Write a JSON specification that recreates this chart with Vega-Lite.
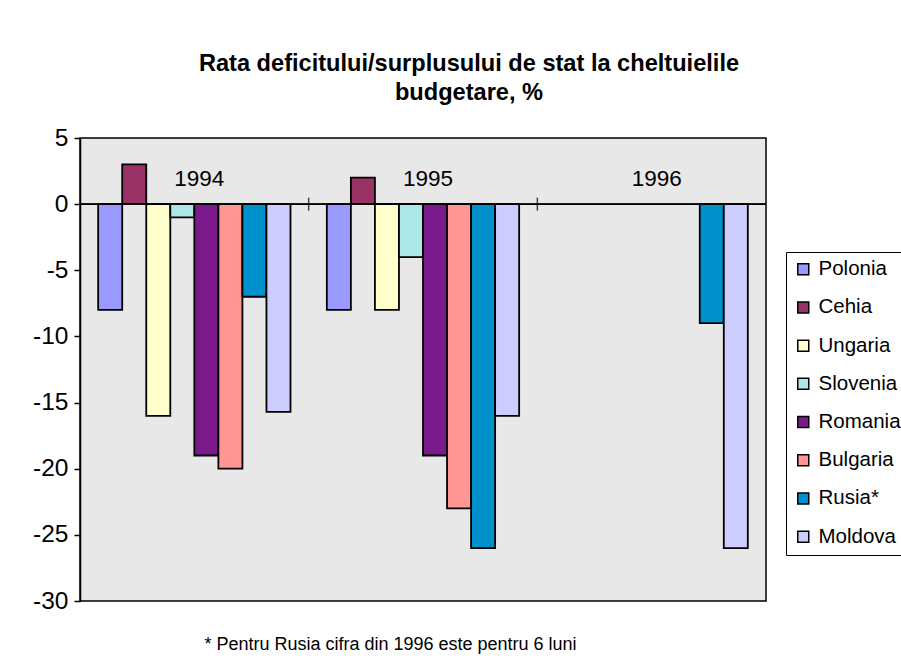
{
  "$schema": "https://vega.github.io/schema/vega-lite/v6.json",
  "width": 686,
  "height": 463,
  "autosize": {"type": "none"},
  "padding": {"left": 80, "top": 138, "right": 135, "bottom": 62},
  "background": "white",
  "config": {
    "font": "Liberation Sans",
    "view": {"fill": "#E8E8E8", "stroke": "#000000", "strokeWidth": 1.5}
  },
  "title": {
    "text": ["Rata deficitului/surplusului de stat la cheltuielile", "budgetare, %"],
    "fontSize": 23.6,
    "fontWeight": "bold",
    "font": "Liberation Sans",
    "color": "#000000",
    "anchor": "middle",
    "frame": "group",
    "dx": 46,
    "lineHeight": 29.5,
    "baseline": "bottom",
    "offset": -4
  },
  "datasets": {
    "bars": [
      {"year": "1994", "country": "Polonia", "value": -8},
      {"year": "1994", "country": "Cehia", "value": 3},
      {"year": "1994", "country": "Ungaria", "value": -16},
      {"year": "1994", "country": "Slovenia", "value": -1},
      {"year": "1994", "country": "Romania", "value": -19},
      {"year": "1994", "country": "Bulgaria", "value": -20},
      {"year": "1994", "country": "Rusia*", "value": -7},
      {"year": "1994", "country": "Moldova", "value": -15.7},
      {"year": "1995", "country": "Polonia", "value": -8},
      {"year": "1995", "country": "Cehia", "value": 2},
      {"year": "1995", "country": "Ungaria", "value": -8},
      {"year": "1995", "country": "Slovenia", "value": -4},
      {"year": "1995", "country": "Romania", "value": -19},
      {"year": "1995", "country": "Bulgaria", "value": -23},
      {"year": "1995", "country": "Rusia*", "value": -26},
      {"year": "1995", "country": "Moldova", "value": -16},
      {"year": "1996", "country": "Rusia*", "value": -9},
      {"year": "1996", "country": "Moldova", "value": -26}
    ],
    "years": [
      {"year": "1994"},
      {"year": "1995"},
      {"year": "1996"}
    ],
    "bounds": [
      {"year": "1995"},
      {"year": "1996"}
    ]
  },
  "layer": [
    {
      "data": {"name": "bars"},
      "mark": {"type": "bar", "stroke": "#000000", "strokeWidth": 1.8},
      "encoding": {
        "x": {
          "field": "year",
          "type": "nominal",
          "scale": {"paddingInner": 0, "paddingOuter": 0},
          "axis": {
            "orient": "bottom",
            "labels": false,
            "ticks": false,
            "domain": false,
            "title": "* Pentru Rusia cifra din 1996 este pentru 6 luni",
            "titleFontSize": 18,
            "titleFontWeight": "normal",
            "titleColor": "#000000",
            "titleFont": "Liberation Sans",
            "titleX": 310,
            "titleY": 48,
            "titleAlign": "center",
            "titleBaseline": "alphabetic"
          }
        },
        "xOffset": {
          "field": "country",
          "type": "nominal",
          "scale": {
            "domain": ["Polonia", "Cehia", "Ungaria", "Slovenia", "Romania", "Bulgaria", "Rusia*", "Moldova"],
            "paddingInner": 0,
            "paddingOuter": 0.756
          }
        },
        "y": {
          "field": "value",
          "type": "quantitative",
          "scale": {"domain": [-30, 5], "nice": false, "zero": true},
          "axis": {
            "values": [-30, -25, -20, -15, -10, -5, 0, 5],
            "labelExpr": "datum.value < 0 ? '-' + abs(datum.value) : '' + datum.value",
            "title": null,
            "grid": false,
            "labelFontSize": 24.5,
            "labelColor": "#000000",
            "labelFont": "Liberation Sans",
            "labelPadding": 6,
            "tickSize": 6,
            "tickColor": "#000000",
            "tickWidth": 1.5,
            "domainColor": "#000000",
            "domainWidth": 1.5
          }
        },
        "color": {
          "field": "country",
          "type": "nominal",
          "scale": {
            "domain": ["Polonia", "Cehia", "Ungaria", "Slovenia", "Romania", "Bulgaria", "Rusia*", "Moldova"],
            "range": ["#9999FF", "#993366", "#FFFFCC", "#ADE8E6", "#7B1A8C", "#FF9694", "#0090CC", "#CCCCFF"]
          },
          "legend": {
            "orient": "none",
            "legendX": 706,
            "legendY": 114,
            "title": null,
            "labelFontSize": 20.5,
            "labelFont": "Liberation Sans",
            "labelColor": "#000000",
            "labelOffset": 5,
            "symbolType": "square",
            "symbolSize": 121,
            "symbolStrokeColor": "#000000",
            "symbolStrokeWidth": 1.5,
            "symbolOpacity": 1,
            "rowPadding": 17.2,
            "padding": 7,
            "strokeColor": "#000000",
            "fillColor": "#FFFFFF"
          }
        }
      }
    },
    {
      "data": {"name": "years"},
      "mark": {"type": "rule", "color": "#000000", "strokeWidth": 1.5},
      "encoding": {"y": {"datum": 0}}
    },
    {
      "data": {"name": "bounds"},
      "mark": {"type": "tick", "orient": "vertical", "color": "#000000", "thickness": 1.5, "size": 13},
      "encoding": {
        "x": {"field": "year", "type": "nominal", "bandPosition": 0},
        "y": {"datum": 0}
      }
    },
    {
      "data": {"name": "years"},
      "mark": {"type": "text", "fontSize": 22.5, "font": "Liberation Sans", "color": "#000000", "dx": 5, "baseline": "alphabetic", "align": "center"},
      "encoding": {
        "x": {"field": "year", "type": "nominal"},
        "y": {"datum": 1.36},
        "text": {"field": "year"}
      }
    }
  ]
}
